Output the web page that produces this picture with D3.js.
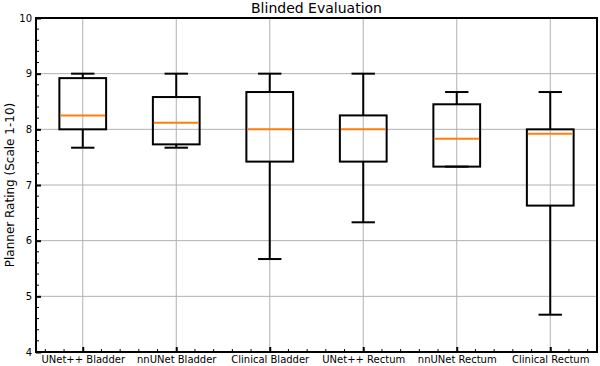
<!DOCTYPE html>
<html>
<head>
<meta charset="utf-8">
<script src="https://cdn.jsdelivr.net/npm/d3@7"></script>
<style>
  body { margin: 0; background: #fff; }
  svg { font-family: "DejaVu Sans", sans-serif; }
</style>
</head>
<body>
<div class="chart"></div>
<script>
// box plot summary values
const categories = ["UNet++ Bladder", "nnUNet Bladder", "Clinical Bladder", "UNet++ Rectum", "nnUNet Rectum", "Clinical Rectum"];
const whiskerLow  = [7.67, 7.67, 5.67, 6.33, 7.33, 4.67];
const q1          = [8.0, 7.73, 7.42, 7.42, 7.33, 6.63];
const median      = [8.25, 8.12, 8.0, 8.0, 7.83, 7.92];
const q3          = [8.92, 8.58, 8.67, 8.25, 8.45, 8.0];
const whiskerHigh = [9.0, 9.0, 9.0, 9.0, 8.67, 8.67];
const yTicks = [4, 5, 6, 7, 8, 9, 10];

const W = 600, H = 366;
const mLeft = 36, mRight = 597, mTop = 18, mBottom = 352;

const svg = d3.select(".chart").append("svg")
    .attr("width", W)
    .attr("height", H);

const x = d3.scaleLinear().domain([0.5, 6.5]).range([mLeft, mRight]);
const y = d3.scaleLinear().domain([4, 10]).range([mBottom, mTop]);

// grid lines
svg.append("g").selectAll("line")
    .data(d3.range(1, 7))
    .join("line")
    .attr("x1", d => x(d)).attr("x2", d => x(d))
    .attr("y1", mTop).attr("y2", mBottom)
    .attr("stroke", "#b0b0b0").attr("stroke-width", 1);

svg.append("g").selectAll("line")
    .data(yTicks)
    .join("line")
    .attr("x1", mLeft).attr("x2", mRight)
    .attr("y1", d => y(d)).attr("y2", d => y(d))
    .attr("stroke", "#b0b0b0").attr("stroke-width", 1);

// boxes (width = half the category spacing, caps half the box)
const boxW = x(1) - x(0.5);
const capW = boxW / 2;
const g = svg.append("g");
categories.forEach((c, i) => {
    const cx = x(i + 1);
    // whiskers
    g.append("line").attr("x1", cx).attr("x2", cx)
        .attr("y1", y(whiskerHigh[i])).attr("y2", y(q3[i]))
        .attr("stroke", "#000").attr("stroke-width", 2);
    g.append("line").attr("x1", cx).attr("x2", cx)
        .attr("y1", y(q1[i])).attr("y2", y(whiskerLow[i]))
        .attr("stroke", "#000").attr("stroke-width", 2);
    // caps
    [whiskerHigh[i], whiskerLow[i]].forEach(v => {
        g.append("line").attr("x1", cx - capW / 2).attr("x2", cx + capW / 2)
            .attr("y1", y(v)).attr("y2", y(v))
            .attr("stroke", "#000").attr("stroke-width", 2);
    });
    // box
    g.append("rect")
        .attr("x", cx - boxW / 2).attr("width", boxW)
        .attr("y", y(q3[i])).attr("height", y(q1[i]) - y(q3[i]))
        .attr("fill", "none").attr("stroke", "#000").attr("stroke-width", 2);
    // median
    g.append("line").attr("x1", cx - boxW / 2 + 1).attr("x2", cx + boxW / 2 - 1)
        .attr("y1", y(median[i])).attr("y2", y(median[i]))
        .attr("stroke", "#ff7f0e").attr("stroke-width", 2);
});

// axes with inward ticks
const xAxis = d3.axisBottom(x)
    .tickValues(d3.range(1, 7))
    .tickSize(-5)
    .tickPadding(4)
    .tickFormat(d => categories[d - 1]);
const xg = svg.append("g").attr("transform", "translate(0," + mBottom + ")").call(xAxis);

const yAxis = d3.axisLeft(y)
    .tickValues(yTicks)
    .tickSize(-5)
    .tickPadding(4)
    .tickFormat(d3.format("d"));
const yg = svg.append("g").attr("transform", "translate(" + mLeft + ",0)").call(yAxis);

[xg, yg].forEach(a => {
    a.select(".domain").remove();
    a.selectAll(".tick line").attr("stroke", "#000").attr("stroke-width", 2);
    a.selectAll(".tick text").attr("font-size", "10px").attr("fill", "#000")
        .attr("font-family", "DejaVu Sans");
});

// minor ticks
const minorX = d3.range(0.6, 6.5, 0.2).filter(v => Math.abs(v - Math.round(v)) > 0.05);
svg.append("g").selectAll("line")
    .data(minorX)
    .join("line")
    .attr("x1", d => x(d)).attr("x2", d => x(d))
    .attr("y1", mBottom).attr("y2", mBottom - 3)
    .attr("stroke", "#000").attr("stroke-width", 1);

const minorY = d3.range(4.2, 10, 0.2).filter(v => Math.abs(v - Math.round(v)) > 0.05);
svg.append("g").selectAll("line")
    .data(minorY)
    .join("line")
    .attr("x1", mLeft).attr("x2", mLeft + 3)
    .attr("y1", d => y(d)).attr("y2", d => y(d))
    .attr("stroke", "#000").attr("stroke-width", 1);

// frame
svg.append("rect")
    .attr("x", mLeft).attr("y", mTop)
    .attr("width", mRight - mLeft).attr("height", mBottom - mTop)
    .attr("fill", "none").attr("stroke", "#000").attr("stroke-width", 2);

// title
svg.append("text")
    .attr("x", (mLeft + mRight) / 2).attr("y", 13)
    .attr("text-anchor", "middle")
    .attr("font-size", "14px")
    .text("Blinded Evaluation");

// y label
svg.append("text")
    .attr("transform", "rotate(-90)")
    .attr("x", -(mTop + mBottom) / 2).attr("y", 14)
    .attr("text-anchor", "middle")
    .attr("font-size", "12px")
    .text("Planner Rating (Scale 1-10)");
</script>
</body>
</html>
